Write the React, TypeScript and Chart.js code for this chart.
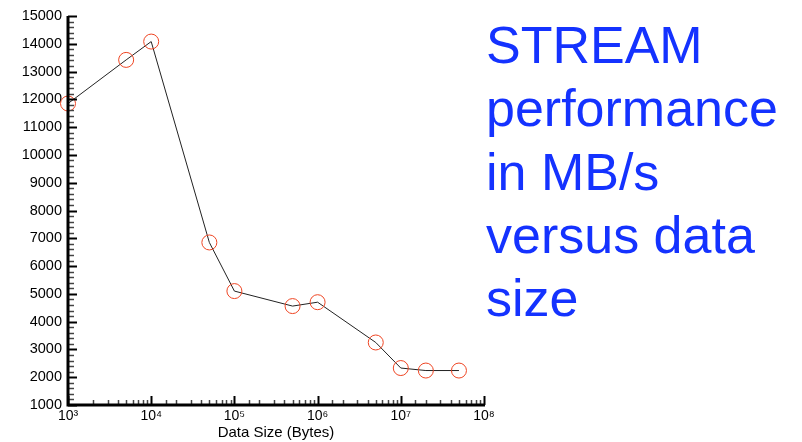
import React, { useEffect, useRef } from "react";
import { Chart, registerables } from "chart.js";

Chart.register(...registerables);

const dataSizes = [1e3, 5e3, 1e4, 5e4, 1e5, 5e5, 1e6, 5e6, 1e7, 2e7, 5e7];
const bandwidth = [11850, 13420, 14080, 6850, 5100, 4560, 4700, 3250, 2330, 2240, 2240];
const yTickMin = 1000;
const yTickMax = 15000;
const xMin = 1e3;
const xMax = 1e8;
const xTitle = "Data Size (Bytes)";
const titleLines = ["STREAM", "performance", "in MB/s", "versus data", "size"];

const SUP: Record<string, string> = { "0": "⁰", "1": "¹", "2": "²", "3": "³", "4": "⁴", "5": "⁵", "6": "⁶", "7": "⁷", "8": "⁸", "9": "⁹" };

const FONT = "'Liberation Sans', Arial, sans-serif";

const inwardTicks = {
  id: "inwardTicks",
  afterDraw(chart: any) {
    const ctx = chart.ctx;
    const xs = chart.scales.x;
    const ys = chart.scales.y;
    const area = chart.chartArea;
    ctx.save();
    ctx.strokeStyle = "#000";
    ys.ticks.forEach((t: any) => {
      const y = Math.round(ys.getPixelForValue(t.value)) + 0.5;
      const major = t.value % 1000 === 0;
      ctx.lineWidth = major ? 2 : 1.5;
      ctx.strokeStyle = major ? "#000" : "#444";
      ctx.beginPath();
      ctx.moveTo(area.left, y);
      ctx.lineTo(area.left + (major ? 9 : 6), y);
      ctx.stroke();
    });
    xs.ticks.forEach((t: any) => {
      const x = Math.round(xs.getPixelForValue(t.value)) + 0.5;
      const lg = Math.log10(t.value);
      const major = Math.abs(lg - Math.round(lg)) < 1e-9;
      ctx.lineWidth = major ? 2 : 1.5;
      ctx.strokeStyle = major ? "#000" : "#444";
      ctx.beginPath();
      ctx.moveTo(x, area.bottom);
      ctx.lineTo(x, area.bottom - (major ? 9 : 5));
      ctx.stroke();
    });
    ctx.strokeStyle = "#000";
    ctx.lineWidth = 3;
    ctx.beginPath();
    ctx.moveTo(area.left, area.top);
    ctx.lineTo(area.left, area.bottom);
    ctx.lineTo(area.right + 1, area.bottom);
    ctx.stroke();
    ctx.restore();
  },
};

export default function App() {
  const ref = useRef<HTMLCanvasElement>(null);
  useEffect(() => {
    document.body.style.margin = "0";
    const chart = new Chart(ref.current!, {
      type: "line",
      data: {
        datasets: [
          {
            data: dataSizes.map((x, i) => ({ x, y: bandwidth[i] })),
            borderColor: "#222",
            borderWidth: 1,
            pointRadius: 7.5,
            pointBorderColor: "#ee4422",
            pointBorderWidth: 1,
            pointBackgroundColor: "rgba(0,0,0,0)",
            tension: 0,
            clip: false as any,
          },
        ],
      },
      options: {
        animation: false,
        responsive: false,
        layout: { padding: { top: 16, right: 16, left: 0, bottom: 0 } },
        plugins: { legend: { display: false }, tooltip: { enabled: false } },
        scales: {
          x: {
            type: "logarithmic",
            min: xMin,
            max: xMax,
            border: { display: false },
            grid: { display: false, drawTicks: false },
            afterFit: (s: any) => { s.height = 37; },
            ticks: {
              autoSkip: false,
              maxRotation: 0,
              padding: 3,
              color: "#000",
              font: { family: FONT, size: 14 },
              callback: (v: any) => {
                const lg = Math.log10(Number(v));
                if (Math.abs(lg - Math.round(lg)) < 1e-9) {
                  return "10" + String(Math.round(lg)).split("").map((c) => SUP[c]).join("");
                }
                return "";
              },
            },
            title: {
              display: true,
              text: xTitle,
              color: "#000",
              font: { family: FONT, size: 15 },
              padding: { top: 0, bottom: 0 },
            },
          },
          y: {
            type: "linear",
            min: yTickMin,
            max: yTickMax,
            border: { display: false },
            grid: { display: false, drawTicks: false },
            afterFit: (s: any) => { s.width = 68; },
            ticks: {
              stepSize: 200,
              autoSkip: false,
              padding: 6,
              color: "#000",
              font: { family: FONT, size: 14.5 },
              callback: (v: any) => (Number(v) % 1000 === 0 ? String(v) : ""),
            },
          },
        },
      },
      plugins: [inwardTicks],
    });
    return () => chart.destroy();
  }, []);
  return (
    <div style={{ position: "relative", width: 802, height: 442, background: "#fff" }}>
      <canvas ref={ref} width={500} height={442} style={{ position: "absolute", left: 0, top: 0 }} />
      <div
        style={{
          position: "absolute",
          left: 486,
          top: 14,
          fontFamily: FONT,
          fontSize: 52,
          lineHeight: "63.3px",
          color: "#1432ff",
          whiteSpace: "nowrap",
        }}
      >
        {titleLines.map((l, i) => (
          <div key={i}>{l}</div>
        ))}
      </div>
    </div>
  );
}
